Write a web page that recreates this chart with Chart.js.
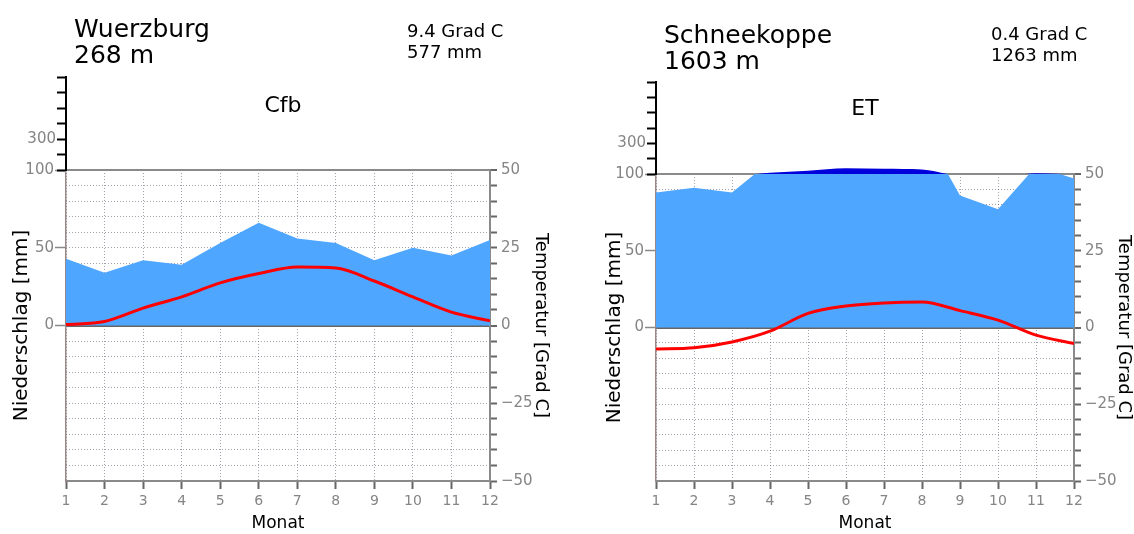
<!DOCTYPE html>
<html>
<head>
<meta charset="utf-8">
<script src="https://cdn.jsdelivr.net/npm/chart.js@4.4.1/dist/chart.umd.min.js"></script>
<style>
body { margin: 0; background: #fff; }
#wrap { position: relative; width: 1134px; height: 534px; }
canvas { position: absolute; top: 0; }
</style>
</head>
<body>
<div id="wrap">
  <canvas id="w_main" width="567" height="534" style="left:0"></canvas>
  <canvas id="w_top" width="567" height="534" style="left:0"></canvas>
  <canvas id="s_main" width="567" height="534" style="left:567px"></canvas>
  <canvas id="s_top" width="567" height="534" style="left:567px"></canvas>
</div>
<script>
// data
const months = [1, 2, 3, 4, 5, 6, 7, 8, 9, 10, 11, 12];

const wuerzburgPrecip = [43, 34, 42, 39, 53, 66, 56, 53, 42, 50, 45, 55];
const wuerzburgTemp = [0.3, 1.3, 5.6, 9.2, 13.7, 16.7, 18.8, 18.5, 14.3, 9.2, 4.3, 1.5];

const schneekoppePrecip = [88, 91, 88, 108, 122, 138, 135, 130, 86, 77, 105, 97];
const schneekoppeTemp = [-7.0, -6.6, -4.7, -1.2, 4.6, 7.0, 8.0, 8.3, 5.5, 2.4, -2.5, -5.2];

const tempLabels = [50, 25, 0, -25, -50];
const precipTicks = [0, 50, 100];
const upperTicks = [100, 200, 300, 400, 500, 600, 700];
const upperLabels = [300];

const stationNames = ['Wuerzburg', 'Schneekoppe'];
const stationHeights = ['268 m', '1603 m'];
const meanTemps = ['9.4 Grad C', '0.4 Grad C'];
const yearPrecip = ['577 mm', '1263 mm'];
const climates = ['Cfb', 'ET'];

const lightBlue = '#4ea6ff';
const darkBlue = '#0000dc';
const red = '#ff0000';
const dotColor = 'rgba(70,70,95,0.5)';
const tickGrey = '#858585';
const fam = 'DejaVu Sans';

function xy(vals) {
    return months.map((m, i) => ({ x: m, y: vals[i] }));
}

function tempLabel(v) {
    return v < 0 ? '\u2212' + Math.abs(v) : String(v);
}

const stationText = {
    id: 'stationText',
    afterDraw(chart, args, opts) {
        const ctx = chart.ctx;
        const area = chart.chartArea;
        ctx.save();
        ctx.fillStyle = '#000';
        ctx.textAlign = 'left';
        ctx.textBaseline = 'alphabetic';
        ctx.font = '25px "' + fam + '"';
        ctx.fillText(opts.name, area.left + 8, opts.nameY);
        ctx.fillText(opts.height, area.left + 8, opts.nameY + 26);
        ctx.font = '18px "' + fam + '"';
        ctx.fillText(opts.meanT, area.right - 83, opts.statY);
        ctx.fillText(opts.total, area.right - 83, opts.statY + 21);
        ctx.font = '22px "' + fam + '"';
        ctx.textAlign = 'center';
        ctx.fillText(opts.climate, (area.left + area.right) / 2 + opts.climDx, opts.climY);
        ctx.restore();
    }
};

function mainChart(id, precip, temp, lay) {
    return new Chart(document.getElementById(id), {
        type: 'line',
        data: {
            datasets: [
                {
                    data: xy(temp), yAxisID: 'yT', borderColor: red, borderWidth: 3,
                    pointRadius: 0, cubicInterpolationMode: 'monotone', fill: false, order: 0
                },
                {
                    data: xy(precip), yAxisID: 'yP', borderWidth: 0, backgroundColor: lightBlue,
                    fill: 'origin', pointRadius: 0, tension: 0, order: 1
                }
            ]
        },
        options: {
            responsive: false,
            animation: false,
            layout: { padding: { top: lay.top, left: 0, right: 0, bottom: 0 } },
            plugins: { legend: { display: false }, tooltip: { enabled: false } },
            scales: {
                x: {
                    type: 'linear', position: 'bottom', min: 1, max: 12, z: 1,
                    afterFit: (s) => { s.height = 534 - lay.boxBottom; },
                    afterBuildTicks: (s) => { s.ticks = months.map(v => ({ value: v })); },
                    ticks: { color: tickGrey, font: { family: fam, size: 14 }, padding: 4, maxRotation: 0, autoSkip: false },
                    grid: { color: dotColor, lineWidth: 1, tickLength: 8, tickColor: '#666', tickWidth: 2 },
                    border: { display: true, color: '#8a8a8a', width: 2, dash: [1, 2] },
                    title: { display: true, text: 'Monat', color: '#000', font: { family: fam, size: 17 }, padding: { top: 0, bottom: 0 } }
                },
                yP: {
                    type: 'linear', position: 'left', min: -100, max: 100, z: 1,
                    afterFit: (s) => { s.width = lay.left; },
                    afterBuildTicks: (s) => { s.ticks = precipTicks.map(v => ({ value: v })); },
                    ticks: { color: tickGrey, font: { family: fam, size: 15 }, padding: 1 },
                    grid: { drawOnChartArea: false, tickLength: 11, tickColor: '#8a8a8a', tickWidth: 1.5 },
                    border: { color: '#9a8888', width: 1.5 },
                    title: { display: true, text: 'Niederschlag [mm]', color: '#000', font: { family: fam, size: 20 }, padding: { top: lay.pTitle } }
                },
                yT: {
                    type: 'linear', position: 'right', min: -50, max: 50, z: 1,
                    afterFit: (s) => { s.width = lay.right; },
                    ticks: {
                        stepSize: 5, autoSkip: false, padding: 4, color: tickGrey,
                        font: { family: fam, size: 15 },
                        callback: (v) => tempLabels.includes(v) ? tempLabel(v) : ''
                    },
                    grid: {
                        color: (c) => {
                            if (!c.tick) return dotColor;
                            if (c.tick.value === 50) return '#8a8a8a';
                            if (c.tick.value === 0) return '#666';
                            if (c.tick.value === -50) return 'rgba(0,0,0,0)';
                            return dotColor;
                        },
                        lineWidth: (c) => (c.tick && (c.tick.value === 50 || c.tick.value === 0)) ? 2 : 1,
                        tickLength: 7, tickColor: '#666', tickWidth: 2
                    },
                    border: {
                        color: '#8a8a8a', width: 2,
                        dash: (c) => (c.tick && (c.tick.value === 0 || c.tick.value === 50)) ? [] : [1, 2]
                    },
                    title: { display: true, text: 'Temperatur [Grad C]', color: '#000', font: { family: fam, size: 18 }, padding: { top: lay.tTitle } }
                }
            }
        }
    });
}

function upperChart(id, precip, idx, lay) {
    return new Chart(document.getElementById(id), {
        type: 'line',
        data: {
            datasets: [{
                data: xy(precip), yAxisID: 'yU', borderWidth: 0, pointRadius: 0,
                backgroundColor: darkBlue, cubicInterpolationMode: 'monotone',
                fill: { value: 100, above: darkBlue, below: 'rgba(0,0,0,0)' }
            }]
        },
        options: {
            responsive: false,
            animation: false,
            layout: { padding: { top: lay.upperTop, left: 0, right: lay.right, bottom: 534 - lay.top } },
            plugins: {
                legend: { display: false },
                tooltip: { enabled: false },
                stationText: {
                    name: stationNames[idx], height: stationHeights[idx],
                    meanT: meanTemps[idx], total: yearPrecip[idx], climate: climates[idx],
                    nameY: lay.nameY, statY: lay.statY, climY: lay.climY, climDx: lay.climDx
                }
            },
            scales: {
                x: { type: 'linear', min: 1, max: 12, display: false },
                yU: {
                    type: 'linear', position: 'left', min: 100, max: 700,
                    afterFit: (s) => { s.width = lay.left; },
                    afterBuildTicks: (s) => { s.ticks = upperTicks.map(v => ({ value: v })); },
                    ticks: {
                        color: tickGrey, font: { family: fam, size: 15 }, padding: 1, autoSkip: false,
                        callback: (v) => upperLabels.includes(v) ? String(v) : ''
                    },
                    grid: { drawOnChartArea: false, tickLength: 9, tickColor: '#000', tickWidth: 2 },
                    border: { color: '#000', width: 2 }
                }
            }
        },
        plugins: [stationText]
    });
}

const wLay = { left: 66, right: 77, top: 170, boxBottom: 481, upperTop: 77, pTitle: 10, tTitle: 16, nameY: 37, statY: 37, climY: 112, climDx: 5 };
const sLay = { left: 89, right: 60, top: 174, boxBottom: 481, upperTop: 82, pTitle: 36, tTitle: 0, nameY: 43, statY: 40, climY: 115, climDx: 0 };

mainChart('w_main', wuerzburgPrecip, wuerzburgTemp, wLay);
upperChart('w_top', wuerzburgPrecip, 0, wLay);
mainChart('s_main', schneekoppePrecip, schneekoppeTemp, sLay);
upperChart('s_top', schneekoppePrecip, 1, sLay);
</script>
</body>
</html>
